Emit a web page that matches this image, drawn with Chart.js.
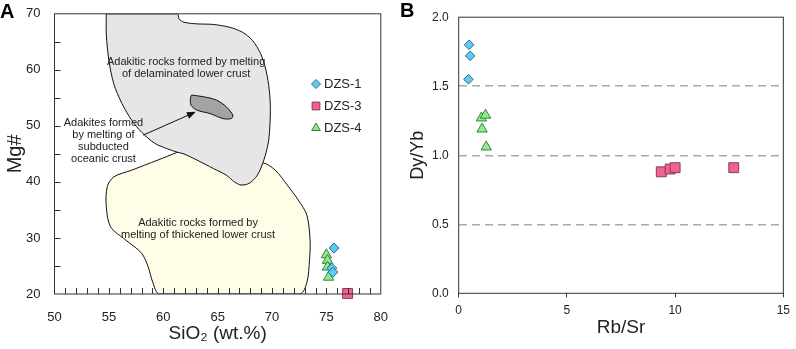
<!DOCTYPE html>
<html>
<head>
<meta charset="utf-8">
<script src="https://cdn.jsdelivr.net/npm/chart.js@4.4.1/dist/chart.umd.min.js"></script>
<style>
  body { margin: 0; background: #fff; }
  #wrap { position: relative; width: 796px; height: 349px; }
  canvas { position: absolute; top: 0; }
</style>
</head>
<body>
<div id="wrap">
  <canvas id="chartA" width="396" height="349" style="left:0"></canvas>
  <canvas id="chartB" width="396" height="349" style="left:400px"></canvas>
</div>
<script>
// ---- panel A data (SiO2 vs Mg#) ----
const dzs1A = [{x: 75.7, y: 28.2}, {x: 75.5, y: 24.6}, {x: 75.6, y: 23.9}];
const dzs3A = [{x: 76.95, y: 20.1}];
const dzs4A = [{x: 75.0, y: 27.0}, {x: 75.1, y: 26.0}, {x: 75.1, y: 24.8}, {x: 75.2, y: 23.0}];

// field outlines, [SiO2, Mg#]
const delaminatedField = [[54.76,70],[61.3,70],[61.45,69.1],[61.9,68.5],[63.1,68.2],[64.6,68.1],[66.1,67.6],[67.3,66.7],[68.2,65.25],[68.95,62.9],[69.45,59.9],[69.75,56.35],[69.85,52.8],[69.7,47.5],[69.25,43.9],[68.65,41.2],[67.9,39.75],[67.15,39.45],[66.55,40.0],[65.8,41.2],[64.6,42.4],[63.1,43.9],[61.9,45.0],[61.3,45.3],[60.4,45.9],[59.2,46.9],[58.0,48.9],[57.1,51.0],[56.2,54.0],[55.45,57.5],[55.0,61.7],[54.76,66.4],[54.76,70]];
const thickenedField = [[61.3,45.3],[59.5,43.9],[57.1,42.1],[55.45,40.9],[54.85,39.15],[54.76,35.6],[55.15,32.0],[56.5,29.7],[58.0,27.3],[58.6,24.9],[59.05,22.0],[59.65,20],[72.55,20],[73.2,22.0],[73.45,26.1],[73.5,29.65],[73.2,34.1],[72.4,36.8],[71.4,39.45],[70.3,42.1],[69.2,43.4],[65.0,44.5],[61.3,45.3]];
const oceanicField = [[62.6,55.5],[63.7,55.2],[64.9,54.6],[65.8,53.4],[66.4,51.9],[66.25,51.3],[65.5,51.3],[64.3,52.2],[63.1,52.8],[62.55,53.7],[62.5,54.9],[62.6,55.5]];
const arrowA = [[58.15, 48.35], [63.0, 52.5]];

const fieldLabels = [
  {x: 62.1, y: 61.4, lines: ['Adakitic rocks formed by melting', 'of delaminated lower crust']},
  {x: 54.5, y: 50.5, lines: ['Adakites formed', 'by melting of', 'subducted', 'oceanic crust']},
  {x: 63.2, y: 32.7, lines: ['Adakitic rocks formed by', 'melting of thickened lower crust']}
];

// ---- panel B data (Rb/Sr vs Dy/Yb) ----
const dzs1B = [{x: 0.48, y: 1.80}, {x: 0.53, y: 1.72}, {x: 0.45, y: 1.55}];
const dzs3B = [{x: 9.36, y: 0.88}, {x: 9.77, y: 0.90}, {x: 10.0, y: 0.91}, {x: 12.71, y: 0.91}];
const dzs4B = [{x: 1.05, y: 1.27}, {x: 1.24, y: 1.29}, {x: 1.08, y: 1.19}, {x: 1.27, y: 1.06}];

const xTicksA = [50, 55, 60, 65, 70, 75, 80];
const yTicksA = [20, 30, 40, 50, 60, 70];
const yTicksB = [0, 0.5, 1.0, 1.5, 2.0];

Chart.defaults.font.family = "'Liberation Sans', Arial, sans-serif";
Chart.defaults.color = '#222';

const styles = {
  dzs1: {pointStyle: 'rectRot', radius: 5, backgroundColor: '#5ecbf1', borderColor: '#2b6f8c'},
  dzs3: {pointStyle: 'rect', radius: 7, backgroundColor: '#f0628f', borderColor: '#8b3a55'},
  dzs4: {pointStyle: 'triangle', radius: 6, backgroundColor: '#8ded8d', borderColor: '#3f7f3f'}
};

function pts(arr) {
  return arr.map(p => ({x: p[0], y: p[1]}));
}

function markerSet(label, data, s) {
  return {
    label: label,
    data: data,
    pointStyle: s.pointStyle,
    pointRadius: s.radius,
    pointBackgroundColor: s.backgroundColor,
    pointBorderColor: s.borderColor,
    pointBorderWidth: 1,
    showLine: false,
    clip: false,
    order: 0
  };
}

function fieldSet(data, fillColor, order) {
  return {
    data: pts(data),
    showLine: true,
    tension: 0.3,
    borderColor: '#111',
    borderWidth: 1,
    backgroundColor: fillColor,
    fill: 'shape',
    pointRadius: 0,
    order: order
  };
}

// box around the plot area
const boxPlugin = {
  id: 'box',
  afterDraw(chart) {
    const {ctx, chartArea: a} = chart;
    ctx.save();
    ctx.strokeStyle = '#333';
    ctx.lineWidth = 1;
    ctx.strokeRect(a.left, a.top, a.right - a.left, a.bottom - a.top);
    ctx.restore();
  }
};

// inward tick marks, labels, arrow and legend of panel A
const panelAPlugin = {
  id: 'panelA',
  afterDatasetsDraw(chart) {
    const {ctx, scales: {x, y}} = chart;
    ctx.save();
    // arrow
    const x0 = x.getPixelForValue(arrowA[0][0]), y0 = y.getPixelForValue(arrowA[0][1]);
    const x1 = x.getPixelForValue(arrowA[1][0]), y1 = y.getPixelForValue(arrowA[1][1]);
    const ang = Math.atan2(y1 - y0, x1 - x0);
    ctx.strokeStyle = '#111';
    ctx.fillStyle = '#111';
    ctx.lineWidth = 1;
    ctx.beginPath();
    ctx.moveTo(x0, y0);
    ctx.lineTo(x1 - 6 * Math.cos(ang), y1 - 6 * Math.sin(ang));
    ctx.stroke();
    ctx.beginPath();
    ctx.moveTo(x1, y1);
    ctx.lineTo(x1 - 9 * Math.cos(ang) + 3.5 * Math.sin(ang), y1 - 9 * Math.sin(ang) - 3.5 * Math.cos(ang));
    ctx.lineTo(x1 - 9 * Math.cos(ang) - 3.5 * Math.sin(ang), y1 - 9 * Math.sin(ang) + 3.5 * Math.cos(ang));
    ctx.closePath();
    ctx.fill();

    // field labels
    ctx.font = "11px 'Liberation Sans', Arial, sans-serif";
    ctx.fillStyle = '#222';
    ctx.textAlign = 'center';
    ctx.textBaseline = 'middle';
    fieldLabels.forEach(l => {
      const px = x.getPixelForValue(l.x), py = y.getPixelForValue(l.y);
      l.lines.forEach((t, i) => ctx.fillText(t, px, py + i * 12));
    });
    ctx.restore();
  },
  afterDraw(chart) {
    const {ctx, chartArea: a, scales: {x, y}} = chart;
    ctx.save();
    ctx.strokeStyle = '#333';
    ctx.lineWidth = 1;
    ctx.beginPath();
    for (let v = 51; v < 80; v++) {
      const px = Math.round(x.getPixelForValue(v)) + 0.5;
      ctx.moveTo(px, a.bottom);
      ctx.lineTo(px, a.bottom - 6);
    }
    for (let v = 25; v < 70; v += 5) {
      const py = Math.round(y.getPixelForValue(v)) + 0.5;
      ctx.moveTo(a.left, py);
      ctx.lineTo(a.left + 6, py);
    }
    ctx.stroke();

    // legend
    const items = [['DZS-1', styles.dzs1, 4.5], ['DZS-3', styles.dzs3, 5.5], ['DZS-4', styles.dzs4, 5]];
    ctx.font = "13px 'Liberation Sans', Arial, sans-serif";
    ctx.textAlign = 'left';
    ctx.textBaseline = 'middle';
    items.forEach((it, i) => {
      const ly = 84 + i * 22;
      ctx.fillStyle = it[1].backgroundColor;
      ctx.strokeStyle = it[1].borderColor;
      Chart.helpers.drawPoint(ctx, {pointStyle: it[1].pointStyle, radius: it[2], borderWidth: 1, rotation: 0}, 316, ly);
      ctx.fillStyle = '#222';
      ctx.fillText(it[0], 324, ly);
    });

    ctx.font = "bold 20px 'Liberation Sans', Arial, sans-serif";
    ctx.textBaseline = 'alphabetic';
    ctx.fillStyle = '#000';
    ctx.fillText('A', 0, 18);
    ctx.restore();
  }
};

const panelBPlugin = {
  id: 'panelB',
  afterDraw(chart) {
    const {ctx} = chart;
    ctx.save();
    ctx.font = "bold 20px 'Liberation Sans', Arial, sans-serif";
    ctx.fillStyle = '#000';
    ctx.fillText('B', 0, 17);
    ctx.restore();
  }
};

new Chart(document.getElementById('chartA'), {
  type: 'scatter',
  data: {
    datasets: [
      fieldSet(thickenedField, '#fffde8', 3),
      fieldSet(delaminatedField, '#e6e6e6', 2),
      fieldSet(oceanicField, '#a3a3a3', 1),
      markerSet('DZS-1', dzs1A, styles.dzs1),
      markerSet('DZS-3', dzs3A, styles.dzs3),
      markerSet('DZS-4', dzs4A, styles.dzs4)
    ]
  },
  options: {
    responsive: false,
    animation: false,
    layout: { padding: { left: 0, top: 13, right: 8, bottom: 0 } },
    scales: {
      x: {
        min: 50, max: 80,
        afterFit: s => { s.height = 55; },
        afterBuildTicks: s => { s.ticks = xTicksA.map(v => ({value: v})); },
        grid: { display: false },
        border: { display: false },
        ticks: { font: { size: 13 }, padding: 8 },
        title: { display: true, text: 'SiO₂ (wt.%)', font: { size: 19 }, padding: { top: 0, bottom: 4 } }
      },
      y: {
        min: 20, max: 70,
        afterFit: s => { s.width = 54.5; },
        afterBuildTicks: s => { s.ticks = yTicksA.map(v => ({value: v})); },
        grid: { display: false },
        border: { display: false },
        ticks: { font: { size: 13 }, padding: 6 },
        title: { display: true, text: 'Mg#', font: { size: 20 }, padding: { top: 3, bottom: 0 } }
      }
    },
    plugins: { legend: { display: false }, tooltip: { enabled: false } }
  },
  plugins: [boxPlugin, panelAPlugin]
});

new Chart(document.getElementById('chartB'), {
  type: 'scatter',
  data: {
    datasets: [
      markerSet('DZS-1', dzs1B, {...styles.dzs1, radius: 4.8}),
      markerSet('DZS-3', dzs3B, styles.dzs3),
      markerSet('DZS-4', dzs4B, styles.dzs4)
    ]
  },
  options: {
    responsive: false,
    animation: false,
    layout: { padding: { left: 0, top: 12.7, right: 7.7, bottom: 0 } },
    scales: {
      x: {
        min: 0, max: 15,
        afterFit: s => { s.height = 55.7; },
        ticks: { stepSize: 5, font: { size: 12 }, padding: 6 },
        grid: { drawOnChartArea: false, tickLength: 4, color: '#333' },
        border: { display: false },
        title: { display: true, text: 'Rb/Sr', font: { size: 19 }, padding: { top: 0, bottom: 10 } }
      },
      y: {
        min: 0, max: 2,
        afterFit: s => { s.width = 58.7; },
        afterBuildTicks: s => { s.ticks = yTicksB.map(v => ({value: v})); },
        ticks: { font: { size: 12 }, padding: 10, callback: v => v.toFixed(1) },
        grid: {
          drawTicks: false,
          lineWidth: 1.5,
          color: c => (c.tick && (c.tick.value === 0 || c.tick.value === 2)) ? 'rgba(0,0,0,0)' : '#aaa'
        },
        border: { display: false, dash: [8, 5] },
        title: { display: true, text: 'Dy/Yb', font: { size: 18 }, padding: { top: 7, bottom: 0 } }
      }
    },
    plugins: { legend: { display: false }, tooltip: { enabled: false } }
  },
  plugins: [boxPlugin, panelBPlugin]
});
</script>
</body>
</html>
